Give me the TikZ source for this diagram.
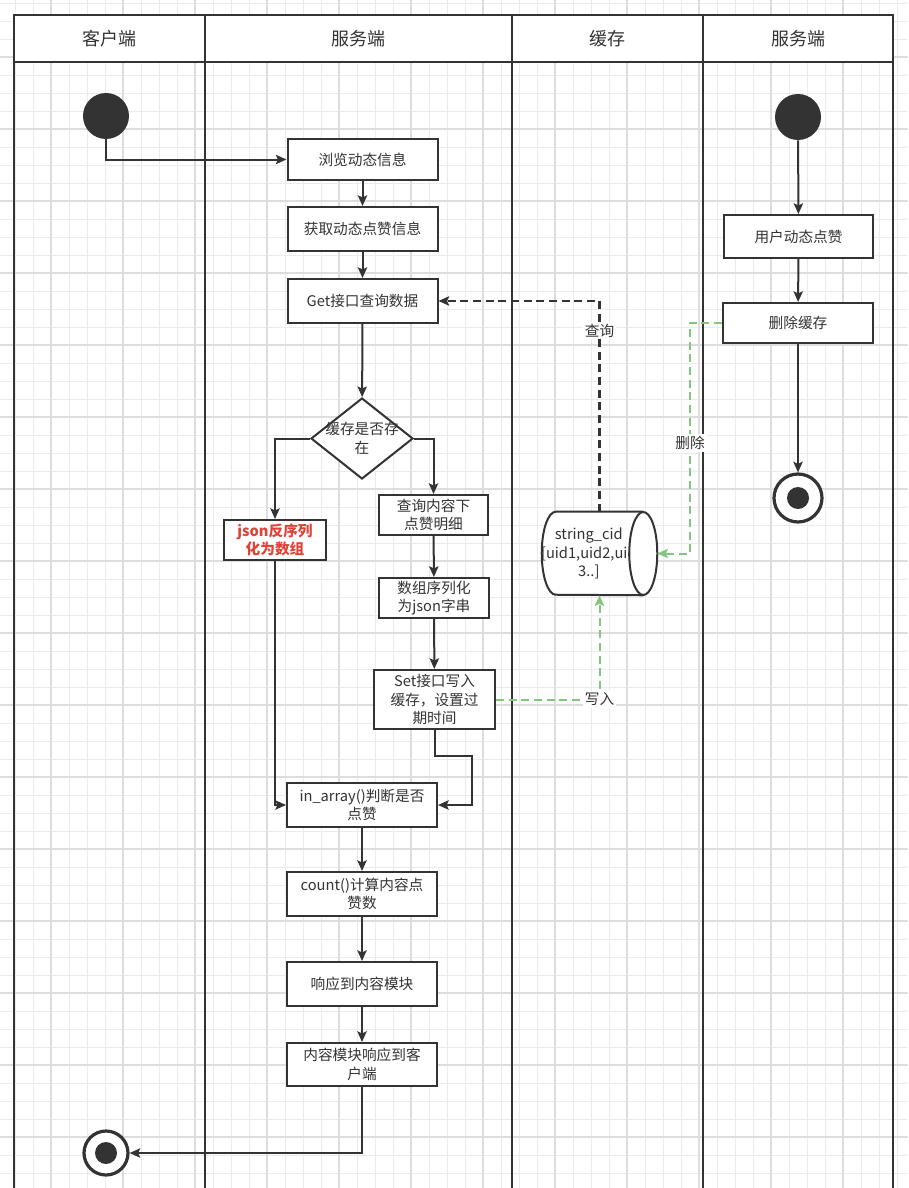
\documentclass[tikz,border=0pt]{standalone}
\usepackage{fontspec}
\setmainfont{Noto Sans CJK SC}
\usetikzlibrary{arrows.meta,positioning,calc,shapes.geometric}
\definecolor{ink}{HTML}{333333}
\definecolor{gridmin}{HTML}{EBEBEB}
\definecolor{gridmaj}{HTML}{DDDDDD}
\definecolor{cachegreen}{HTML}{82C680}
\definecolor{alertred}{HTML}{E04438}
\newcommand{\boxfont}{\fontsize{11}{13.8}\selectfont}
\tikzset{
  lane/.style={draw=ink, line width=1.8pt},
  hdr/.style={text=ink, font=\fontsize{13.5}{15}\selectfont},
  actbox/.style={draw=ink, fill=white, line width=1.5pt, align=center,
                 inner sep=2pt, text=ink, font=\boxfont,
                 minimum width=112.5pt, minimum height=33pt},
  decide/.style={diamond, draw=ink, fill=white, line width=1.5pt, inner sep=0pt,
                 minimum width=76.5pt, minimum height=60.75pt},
  startdot/.style={circle, fill=ink, inner sep=0pt, minimum size=34.5pt},
  endring/.style={circle, draw=ink, fill=white, line width=2.4pt, inner sep=0pt,
                  minimum size=33pt,
                  path picture={\fill[ink] (path picture bounding box.center) circle (8.25pt);}},
  arr/.style={-{Stealth[length=8pt,width=7pt,inset=1.6pt]}, line width=1.5pt, draw=ink},
  qarr/.style={arr, dash pattern=on 6pt off 3.5pt, line width=1.8pt},
  garr/.style={-{Stealth[length=8pt,width=7pt,inset=1.6pt]}, line width=1.5pt,
               draw=cachegreen, dash pattern=on 6pt off 3.5pt},
  edgelbl/.style={fill=white, text=ink, font=\boxfont, inner sep=1.5pt}}

\begin{document}
\begin{tikzpicture}[x=0.75pt, y=-0.75pt]
  \useasboundingbox (0,0) rectangle (908,1188);
  \fill[white] (0,0) rectangle (908,1188);
  % grid
  \foreach \x in {-3,15,...,910} \draw[gridmin, line width=0.7pt] (\x,0) -- (\x,1188);
  \foreach \y in {3,21,...,1190} \draw[gridmin, line width=0.7pt] (0,\y) -- (908,\y);
  \foreach \x in {-21,51,...,910} \draw[gridmaj, line width=0.8pt] (\x,0) -- (\x,1188);
  \foreach \y in {57,129,...,1190} \draw[gridmaj, line width=0.8pt] (0,\y) -- (908,\y);

  % swimlanes
  \draw[lane, fill=white] (14,15) rectangle (893,62);
  \foreach \x in {14,205,512,703,893} \draw[lane] (\x,15) -- (\x,1188);
  \node[hdr] (hclient) at (109.5,39) {客户端};
  \node[hdr] (hserver) at (358.5,39) {服务端};
  \node[hdr] (hcache) at (607.5,39) {缓存};
  \node[hdr] (hserver2) at (798,39) {服务端};

  % client / server flow
  \node[startdot] (start1) at (106,116) {};
  \node[actbox, minimum height=30.75pt] (browse) at (362.5,159.5) {浏览动态信息};
  \node[actbox] (fetch) at (362.5,229) {获取动态点赞信息};
  \node[actbox] (getq) at (362.5,301) {Get接口查询数据};
  \node[decide] (exists) at (362,438.5) {};
  \node[text=ink, font=\boxfont, align=center] (existslbl) at (exists.center) {缓存是否存\\在};
  \node[actbox, minimum width=76.5pt, minimum height=30pt, text=alertred,
        font=\boxfont\bfseries] (jsondec) at (275,540) {json反序列\\化为数组};
  \node[actbox, minimum width=81.75pt, minimum height=30pt] (querydetail) at (433.5,515) {查询内容下\\点赞明细};
  \node[actbox, minimum width=82.5pt, minimum height=30pt] (serialize) at (434,598) {数组序列化\\为json字串};
  \node[actbox, minimum width=90.75pt, minimum height=44.25pt] (setw) at (434.5,699.5) {Set接口写入\\缓存，设置过\\期时间};
  \node[actbox] (inarr) at (362,805) {in\_array()判断是否\\点赞};
  \node[actbox] (count) at (362,894) {count()计算内容点\\赞数};
  \node[actbox] (resp) at (362,984) {响应到内容模块};
  \node[actbox, minimum height=32.25pt] (respclient) at (362,1064.5) {内容模块响应到客\\户端};
  \node[endring] (end1) at (106,1153) {};

  % cache
  \node[minimum width=86.25pt, minimum height=62.25pt, inner sep=0pt] (cache) at (599.5,553.5) {};
  \draw[ink, line width=1.5pt, fill=white]
    ([xshift=-10.5pt]cache.north east) -- ([xshift=10.5pt]cache.north west)
    arc[start angle=90, end angle=270, x radius=10.5pt, y radius=31.125pt]
    -- ([xshift=-10.5pt]cache.south east);
  \node[text=ink, font=\boxfont, align=center, inner sep=0pt] (cachelbl)
    at ([xshift=-8pt]cache.center) {string\_cid\\{[}uid1,uid2,uid\\3..{]}};
  \draw[ink, line width=1.5pt, fill=white] ([xshift=-10.5pt]cache.east)
    ellipse [x radius=10.5pt, y radius=31.125pt];

  % right server flow
  \node[startdot] (start2) at (798,117) {};
  \node[actbox, minimum width=111.75pt, minimum height=32.25pt] (like) at (798.5,236.5) {用户动态点赞};
  \node[actbox, minimum height=30pt] (delcache) at (798,323) {删除缓存};
  \node[endring, minimum size=36pt] (end2) at (798,498) {};

  % connectors
  \draw[arr] (start1) |- (browse.west);
  \draw[arr] (browse) -- (fetch);
  \draw[arr] (fetch) -- (getq);
  \draw[arr] (getq) -- (exists);
  \draw[arr] (exists.west) -| (jsondec.north);
  \draw[arr] (exists.east) -| (querydetail.north);
  \draw[arr] (querydetail) -- (serialize);
  \draw[arr] (serialize) -- (setw);
  \draw[arr] (setw.south) -- ++(0,26) -- ++(37,0) |- (inarr.east);
  \draw[arr] (jsondec.south) |- (inarr.west);
  \draw[arr] (inarr) -- (count);
  \draw[arr] (count) -- (resp);
  \draw[arr] (resp) -- (respclient);
  \draw[arr] (respclient.south) |- (end1.east);

  \draw[arr] (start2) -- (like);
  \draw[arr] (like) -- (delcache);
  \draw[arr] (delcache) -- (end2);

  \draw[qarr] (cache.north) |- node[edgelbl, pos=0.43] (qlbl) {查询} (getq.east);
  \draw[garr] (setw.east) -| node[edgelbl, pos=0.5] (wlbl) {写入} (cache.south);
  \draw[garr] (delcache.west) -- ++(-32,0) |- node[edgelbl, pos=0.26] (dlbl) {删除} (cache.east);
\end{tikzpicture}
\end{document}
